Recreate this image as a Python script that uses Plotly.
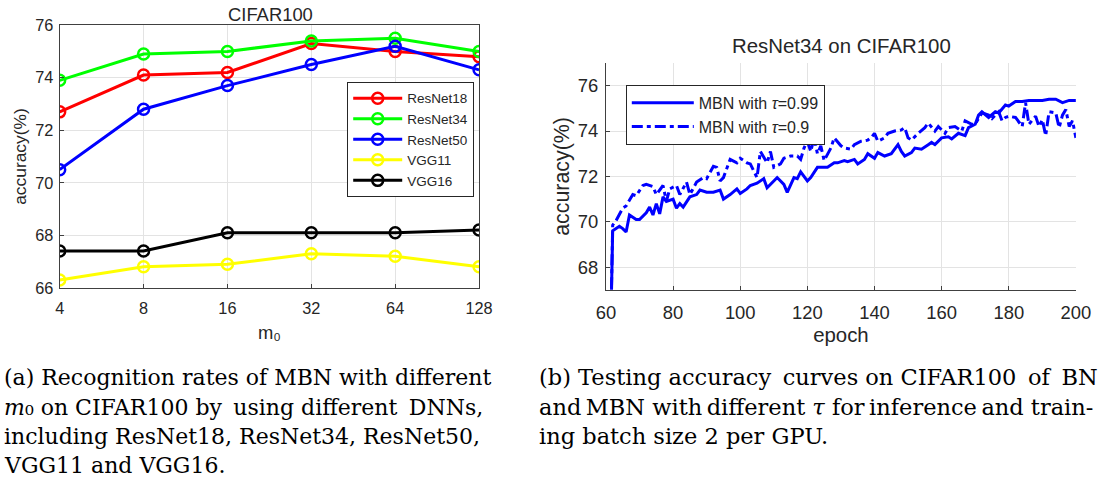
import math
import plotly.graph_objects as go

W, H = 1114, 489

# ---------------- data: left panel ----------------
m0 = [4, 8, 16, 32, 64, 128]
m0_labels = ["4", "8", "16", "32", "64", "128"]
resnet18 = [72.7, 74.1, 74.2, 75.3, 75.0, 74.8]
resnet34 = [73.9, 74.9, 75.0, 75.4, 75.5, 75.0]
resnet50 = [70.5, 72.8, 73.7, 74.5, 75.2, 74.3]
vgg11 = [66.3, 66.8, 66.9, 67.3, 67.2, 66.8]
vgg16 = [67.4, 67.4, 68.1, 68.1, 68.1, 68.2]

# ---------------- data: right panel ----------------
epochs_099 = [61, 62, 64, 65, 66, 67, 69, 70, 72, 73, 74, 75, 76, 77, 78, 80, 81, 82, 83, 85,
              87, 88, 90, 92, 94, 95, 97, 99, 100, 102, 103, 105, 107, 108, 110, 111, 113, 114,
              116, 117, 118, 120, 121, 123, 125, 126, 128, 129, 131, 132, 134, 135, 137, 138,
              140, 141, 143, 145, 147, 148, 149, 151, 152, 154, 156, 157, 158, 160, 162, 163,
              165, 167, 168, 170, 171, 172, 174, 176, 177, 179, 180, 182, 184, 186, 188, 190,
              192, 194, 196, 198, 200]
acc_099 = [62.0, 69.6, 69.8, 69.7, 69.55, 70.3, 70.1, 70.1, 70.4, 70.65, 70.3, 70.8, 70.35, 71.1,
           70.9, 71.0, 70.6, 70.8, 70.65, 71.1, 71.2, 71.4, 71.3, 71.3, 71.4, 71.0, 71.2, 71.45,
           71.25, 71.45, 71.6, 71.7, 71.9, 71.5, 71.8, 71.95, 71.65, 71.3, 71.95, 71.9, 72.2,
           71.8, 71.95, 72.4, 72.4, 72.4, 72.6, 72.6, 72.7, 72.65, 72.75, 72.55, 72.75, 73.0,
           72.8, 73.05, 72.9, 73.0, 73.4, 73.1, 72.9, 73.05, 73.25, 73.2, 73.4, 73.5, 73.4,
           73.7, 73.75, 73.65, 73.9, 73.8, 74.15, 74.3, 74.7, 74.85, 74.6, 74.85, 74.8, 75.15,
           75.1, 75.3, 75.3, 75.35, 75.35, 75.35, 75.4, 75.4, 75.25, 75.35, 75.35]

epochs_09 = [61, 62, 63, 65, 66, 68, 69, 71, 72, 74, 75, 77, 78, 79, 81, 82, 84, 85, 87, 89, 90,
             92, 93, 94, 95, 97, 99, 100, 102, 103, 105, 106, 108, 109, 110, 112, 113, 115, 117,
             118, 119, 120, 121, 122, 123, 124, 125, 127, 128, 130, 131, 133, 134, 136, 138, 139,
             140, 141, 143, 144, 146, 148, 149, 150, 151, 153, 155, 156, 158, 159, 161, 162, 164,
             166, 167, 169, 170, 172, 174, 175, 177, 178, 179, 180, 182, 184, 185, 186, 188, 189,
             190, 191, 192, 194, 195, 196, 197, 198, 199, 200]
acc_09 = [62.0, 69.85, 70.05, 70.6, 70.7, 71.2, 71.15, 71.6, 71.65, 71.55, 71.2, 71.6, 70.9, 71.45,
          71.6, 71.2, 71.75, 71.2, 71.75, 71.95, 71.9, 72.45, 72.4, 71.8, 71.95, 72.75, 72.6,
          72.8, 72.6, 72.55, 71.95, 73.1, 72.6, 73.1, 72.4, 72.55, 72.8, 72.9, 72.9, 72.75,
          73.25, 73.55, 73.1, 73.7, 73.0, 73.35, 72.7, 73.25, 73.7, 73.35, 73.25, 73.2, 73.4,
          73.55, 73.6, 73.7, 73.9, 73.55, 73.7, 73.9, 74.0, 74.05, 74.15, 73.7, 73.6, 73.9,
          74.15, 74.35, 74.0, 74.2, 73.9, 74.15, 74.2, 74.0, 74.45, 74.3, 74.3, 74.8, 74.7,
          74.55, 74.85, 74.45, 74.6, 74.65, 74.6, 74.2, 75.25, 74.3, 74.65, 74.2, 74.5, 73.8,
          74.85, 74.8, 74.15, 74.7, 74.95, 74.2, 74.45, 73.7]

# captions (thin spaces U+2009 are used to mimic the justified LaTeX lines)
TS = "\u2009"
cap_a = [
    "(a) Recognition rates of MBN with different",
    "<i>m</i>\u2080 on CIFAR100 by" + TS + " using different" + TS + " DNNs,",
    "including ResNet18, ResNet34, ResNet50,",
    "VGG11 and VGG16.",
]
cap_b = [
    "(b) Testing accuracy" + TS + " curves on CIFAR100" + TS + " of" + TS + " BN",
    "and" + TS + "MBN with" + TS + "different <i>τ</i> for" + TS + "inference" + TS + "and train-",
    "ing batch size 2 per GPU.",
]


# layout helpers: target pixel positions -> paper fractions
def X(x):
    return x / 0.986 - 8


def Y(y):
    return y / 0.968 - 8


def px(x):
    return X(x) / W


def py(y):
    return 1 - Y(y) / H


SANS = "Liberation Sans, Arial, sans-serif"
SERIF = "DejaVu Serif, serif"
TXT = "#262626"
GRID = "#e3e3e3"
AXC = "#404040"

fig = go.Figure()

left_series = [
    ("ResNet18", resnet18, "#ff0000"),
    ("ResNet34", resnet34, "#00ff00"),
    ("ResNet50", resnet50, "#0000ff"),
    ("VGG11", vgg11, "#ffff00"),
    ("VGG16", vgg16, "#000000"),
]
for name, vals, col in left_series:
    fig.add_trace(go.Scatter(
        x=m0, y=vals, name=name, mode="lines+markers",
        line=dict(color=col, width=3),
        marker=dict(symbol="circle-open", size=11, color=col, line=dict(width=2.5, color=col)),
        xaxis="x", yaxis="y", legend="legend",
    ))

fig.add_trace(go.Scatter(
    x=epochs_099, y=acc_099, name="MBN with <i>τ</i>=0.99", mode="lines",
    line=dict(color="#0000ff", width=3), xaxis="x2", yaxis="y2", legend="legend2",
))
fig.add_trace(go.Scatter(
    x=epochs_09, y=acc_09, name="MBN with <i>τ</i>=0.9", mode="lines",
    line=dict(color="#0000ff", width=3, dash="11px,4px,4px,4px"), xaxis="x2", yaxis="y2",
    legend="legend2",
))


def axis(**kw):
    base = dict(showgrid=True, gridcolor=GRID, gridwidth=1, zeroline=False,
                showline=True, linecolor=AXC, linewidth=1,
                ticks="inside", ticklen=4, tickcolor=AXC)
    base.update(kw)
    return base


fig.update_layout(
    width=W, height=H,
    margin=dict(l=0, r=0, t=0, b=0),
    paper_bgcolor="white", plot_bgcolor="white",
    font=dict(family=SANS, color=TXT),
    xaxis=axis(
        type="log", range=[math.log10(4), math.log10(128)], tickvals=m0, ticktext=m0_labels,
        domain=[px(58), px(481)], anchor="y", mirror=True,
        tickfont=dict(size=16.3, color=TXT), ticklabelstandoff=6,
        title=dict(text="m\u2080", font=dict(size=18.4, color=TXT), standoff=9),
    ),
    yaxis=axis(
        range=[66, 76], dtick=2, domain=[py(288), py(24)], anchor="x", mirror=True,
        tickfont=dict(size=16.3, color=TXT), ticklabelstandoff=2,
        title=dict(text="accuracy(%)", font=dict(size=17.4, color=TXT), standoff=4),
    ),
    xaxis2=axis(
        range=[60, 200], dtick=20, domain=[px(609), px(1083)], anchor="y2", mirror=False,
        tickfont=dict(size=18.4, color=TXT), ticklabelstandoff=6,
        title=dict(text="epoch", font=dict(size=20.4, color=TXT), standoff=5),
    ),
    yaxis2=axis(
        range=[67, 77], tickvals=[68, 70, 72, 74, 76], domain=[py(290), py(62)], anchor="x2",
        mirror=False, tickfont=dict(size=18.4, color=TXT), ticklabelstandoff=3,
        title=dict(text="accuracy(%)", font=dict(size=21.4, color=TXT), standoff=2),
    ),
    legend=dict(
        x=px(348), y=py(81), xanchor="left", yanchor="top",
        bgcolor="white", bordercolor=TXT, borderwidth=1, itemwidth=49,
        font=dict(size=13.5, color=TXT), tracegroupgap=0,
    ),
    legend2=dict(
        x=px(629), y=py(84), xanchor="left", yanchor="top",
        bgcolor="white", bordercolor=TXT, borderwidth=1, itemwidth=62,
        font=dict(size=16, color=TXT), tracegroupgap=0,
    ),
    showlegend=True,
)

ann = []


def add_text(x, y, text, size, family=SANS, color=TXT, xanchor="center"):
    ann.append(dict(x=px(x), y=py(y), xref="paper", yref="paper", text=text, showarrow=False,
                    font=dict(size=size, family=family, color=color),
                    xanchor=xanchor, yanchor="middle", borderpad=0))


add_text(271, 13, "CIFAR100", 18.4)
add_text(847, 45, "ResNet34 on CIFAR100", 20.4)

cap_y = [378, 408, 437, 467]
for i, t in enumerate(cap_a):
    add_text(1, cap_y[i], t, 22, family=SERIF, color="black", xanchor="left")
for i, t in enumerate(cap_b):
    add_text(540, cap_y[i], t, 22.5, family=SERIF, color="black", xanchor="left")

fig.update_layout(annotations=ann)

fig.write_html("out.html")
